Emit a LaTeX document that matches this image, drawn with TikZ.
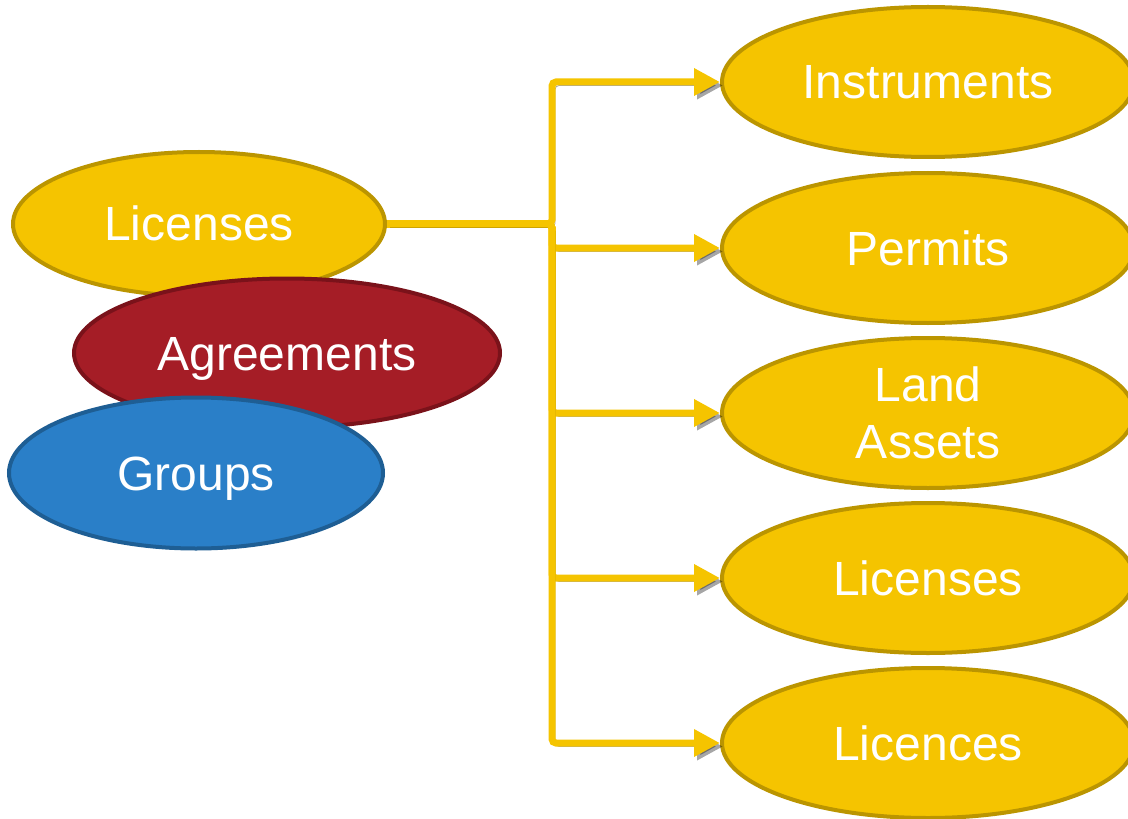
\documentclass[tikz,border=0pt]{standalone}
\usepackage{fontspec}
\setmainfont{Liberation Sans}
\usetikzlibrary{shapes.geometric}
\usetikzlibrary{arrows.meta}
\usepackage{xcolor}
\definecolor{gold}{HTML}{F5C400}
\definecolor{goldline}{HTML}{BB9500}
\definecolor{wine}{HTML}{A51D26}
\definecolor{wineline}{HTML}{7A121A}
\definecolor{sky}{HTML}{2A7FC8}
\definecolor{skyline}{HTML}{1E5E94}

\begin{document}
\begin{tikzpicture}[x=0.5pt, y=-0.5pt,
    blob/.style = {ellipse, draw=#1line, fill=#1, line width=2pt,
                text=white, inner sep=0pt, align=center,
                text height=17pt, text depth=0pt,
                font=\fontsize{24}{28.5}\selectfont},
    blob/.default = gold,  % yellow is the usual one
    conn/.style = {draw=gold, line width=3.5pt, rounded corners=2pt,
                -{Triangle[length=13pt,width=13pt]},
                preaction={draw=black, opacity=0.35,
                transform canvas={shift={(1.5pt,-1.75pt)}}}}
                    ]
    \useasboundingbox (0,0) rectangle (1128,818);
    \def\rx{928}
    \def\hx{552}
    \def\ly{224}
    \node[blob, minimum width=186pt, minimum height=72pt] at (199,\ly) (lic) {Licenses};
    \node[blob=wine, minimum width=213pt, minimum height=74.5pt] at (287,353) (agr) {Agreements};
    \node[blob=sky, minimum width=187pt, minimum height=75.5pt] at (196,473) (grp) {Groups};
    \foreach \n/\y/\h/\t in {ins/82/17pt/Instruments, per/248/17pt/Permits,
                         lnd/413/45.5pt/Land\\Assets,
                         lcs/578/17pt/Licenses, lcc/743/17pt/Licences}
        \node[blob, text height=\h, minimum width=206pt, minimum height=75pt] at (\rx,\y) (\n) {\t};
    \coordinate (hub) at (\hx,\ly);
    \foreach \n in {ins,per,lnd,lcs,lcc}
        \draw[conn] (lic.east) -- (hub) |- (\n.west);
\end{tikzpicture}
\end{document}
